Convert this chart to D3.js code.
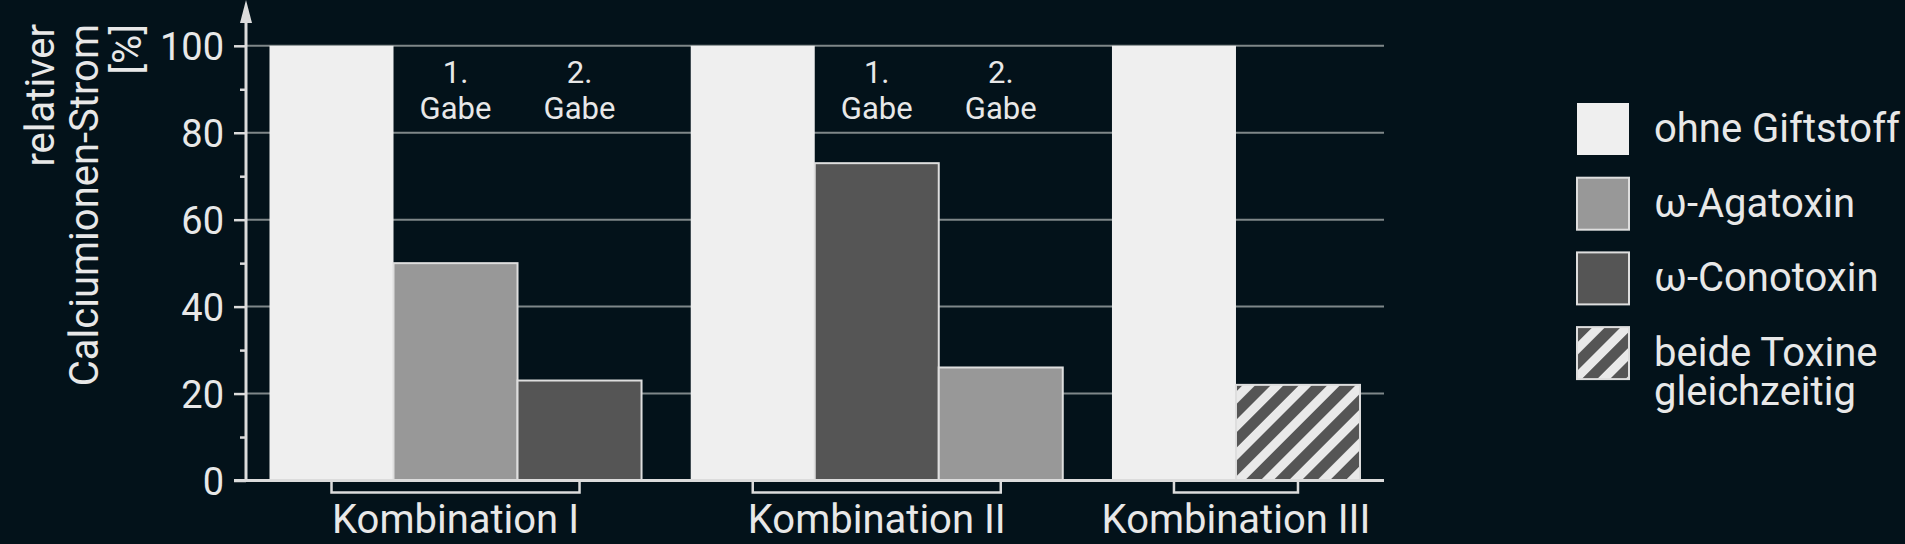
<!DOCTYPE html>
<html>
<head>
<meta charset="utf-8">
<script src="https://cdn.jsdelivr.net/npm/d3@7"></script>
<style>
  html, body { margin: 0; padding: 0; background: #03121a; }
  svg { display: block; }
  text { font-family: Roboto, "Open Sans", sans-serif; fill: #e8e8e8; }
</style>
</head>
<body>
<div id="chart"></div>
<script>
// categories and values
var groups = ['Kombination I', 'Kombination II', 'Kombination III'];
var seriesKeys = ['ohne', 'aga', 'cono', 'beide'];
var seriesNames = [['ohne Giftstoff'], ['ω-Agatoxin'], ['ω-Conotoxin'], ['beide Toxine', 'gleichzeitig']];
var barSeries = [['ohne', 'aga', 'cono'], ['ohne', 'cono', 'aga'], ['ohne', 'beide']];
var barValues = [[100, 50, 23], [100, 73, 26], [100, 22]];
var doseLabels = ['1.', '2.'];
var yTicks = [0, 20, 40, 60, 80, 100];
var yMinorTicks = [10, 30, 50, 70, 90];
var yTitle = ['relativer', 'Calciumionen-Strom', '[%]'];

var width = 1905,
    height = 544,
    axisX = 246,
    plotRight = 1384;

var fills = {
    ohne: '#efefef',
    aga: '#989898',
    cono: '#555555',
    beide: 'url(#hatch)'
};

var svg = d3.select('#chart').append('svg')
    .attr('width', width)
    .attr('height', height);

svg.append('rect').attr('width', width).attr('height', height).attr('fill', '#03121a');

// hatch pattern for "beide Toxine"
var pat = svg.append('defs').append('pattern')
    .attr('id', 'hatch')
    .attr('patternUnits', 'userSpaceOnUse')
    .attr('width', 20)
    .attr('height', 20)
    .attr('patternTransform', 'rotate(45)');
pat.append('rect').attr('width', 20).attr('height', 20).attr('fill', '#e9e9e9');
pat.append('rect').attr('width', 11).attr('height', 20).attr('fill', '#555555');

var yScale = d3.scaleLinear().domain([0, 100]).range([480.5, 45.8]);

var xScale = d3.scaleBand()
    .domain(groups)
    .range([269.5, 1484])
    .paddingInner(0.1168)
    .paddingOuter(0);

var xInner = d3.scaleBand()
    .domain([0, 1, 2])
    .range([0, xScale.bandwidth()]);

// gridlines
svg.append('g').selectAll('line').data(yTicks.slice(1))
    .enter().append('line')
    .attr('x1', axisX).attr('x2', plotRight)
    .attr('y1', (d) => yScale(d)).attr('y2', (d) => yScale(d))
    .attr('stroke', '#7f8789')
    .attr('stroke-width', 2);

// bars
var barData = [];
groups.forEach(function(g, i) {
    barValues[i].forEach(function(v, j) {
        barData.push({group: g, slot: j, key: barSeries[i][j], value: v});
    });
});

svg.append('g').selectAll('rect').data(barData)
    .enter().append('rect')
    .attr('x', (d) => xScale(d.group) + xInner(d.slot))
    .attr('y', (d) => yScale(d.value))
    .attr('width', xInner.bandwidth())
    .attr('height', (d) => yScale(0) - yScale(d.value))
    .attr('fill', (d) => fills[d.key])
    .attr('stroke', (d) => d.key == 'ohne' ? 'none' : '#dedede')
    .attr('stroke-width', 2);

// y axis with major and minor ticks
var yAxis = d3.axisLeft(yScale).tickValues(yTicks).tickSize(12).tickPadding(10).tickSizeOuter(0);
var gy = svg.append('g').attr('transform', 'translate(' + axisX + ',0)').call(yAxis);
gy.select('.domain').remove();
gy.selectAll('.tick line').attr('stroke', '#dcdcdc').attr('stroke-width', 2.5);
gy.selectAll('.tick text').style('font-size', '38px').attr('fill', '#e8e8e8').attr('dy', '0.36em');

var gyMinor = svg.append('g').attr('transform', 'translate(' + axisX + ',0)')
    .call(d3.axisLeft(yScale).tickValues(yMinorTicks).tickSize(6).tickFormat(''));
gyMinor.select('.domain').remove();
gyMinor.selectAll('.tick line').attr('stroke', '#dcdcdc').attr('stroke-width', 2.5);

// axis lines and arrow
svg.append('line')
    .attr('x1', axisX).attr('x2', axisX)
    .attr('y1', yScale(0)).attr('y2', 18)
    .attr('stroke', '#dcdcdc').attr('stroke-width', 3);
svg.append('path')
    .attr('d', 'M' + axisX + ',0 L' + (axisX - 6) + ',23 L' + (axisX + 6) + ',23 Z')
    .attr('fill', '#dcdcdc');
svg.append('line')
    .attr('x1', axisX - 12).attr('x2', plotRight)
    .attr('y1', yScale(0)).attr('y2', yScale(0))
    .attr('stroke', '#dcdcdc').attr('stroke-width', 3);

// group brackets and labels
function groupEnds(d, i) {
    var n = barValues[i].length;
    return [xScale(d) + xInner(0) + xInner.bandwidth() / 2,
            xScale(d) + xInner(n - 1) + xInner.bandwidth() / 2];
}
var gx = svg.append('g').selectAll('g').data(groups).enter().append('g');
gx.append('path')
    .attr('d', function(d, i) {
        var e = groupEnds(d, i);
        return 'M' + e[0] + ',' + yScale(0) + ' V492.5 H' + e[1] + ' V' + yScale(0);
    })
    .attr('fill', 'none')
    .attr('stroke', '#dcdcdc')
    .attr('stroke-width', 2.5);
gx.append('text')
    .attr('x', function(d, i) {
        var e = groupEnds(d, i);
        return (e[0] + e[1]) / 2;
    })
    .attr('y', 533)
    .attr('text-anchor', 'middle')
    .style('font-size', '40px')
    .text((d) => d);

// "1. Gabe" / "2. Gabe" annotations for the first two groups
groups.slice(0, 2).forEach(function(g) {
    doseLabels.forEach(function(lab, k) {
        var cx = xScale(g) + xInner(k + 1) + xInner.bandwidth() / 2;
        var t = svg.append('text')
            .attr('x', cx)
            .attr('y', 83)
            .attr('text-anchor', 'middle')
            .style('font-size', '31px');
        t.append('tspan').attr('x', cx).text(lab);
        t.append('tspan').attr('x', cx).attr('dy', 36).text('Gabe');
    });
});

// y axis title, rotated
var gt = svg.append('g').attr('transform', 'rotate(-90)');
gt.selectAll('text').data(yTitle).enter().append('text')
    .attr('x', -24)
    .attr('y', (d, i) => [54, 98, 141][i])
    .attr('text-anchor', 'end')
    .style('font-size', '40px')
    .text((d) => d);

// legend
var legend = svg.append('g').attr('transform', 'translate(1577,103)');
var li = legend.selectAll('g').data(seriesKeys).enter().append('g')
    .attr('transform', (d, i) => 'translate(0,' + (i * 74.7) + ')');
li.append('rect')
    .attr('width', 52).attr('height', 52)
    .attr('fill', (d) => fills[d])
    .attr('stroke', (d) => d == 'ohne' ? 'none' : '#dedede')
    .attr('stroke-width', 2);
li.each(function(d, i) {
    var item = d3.select(this);
    seriesNames[i].forEach(function(w, k) {
        item.append('text')
            .attr('x', 77)
            .attr('y', 39 + k * 39)
            .style('font-size', '40px')
            .text(w);
    });
});
</script>
</body>
</html>
